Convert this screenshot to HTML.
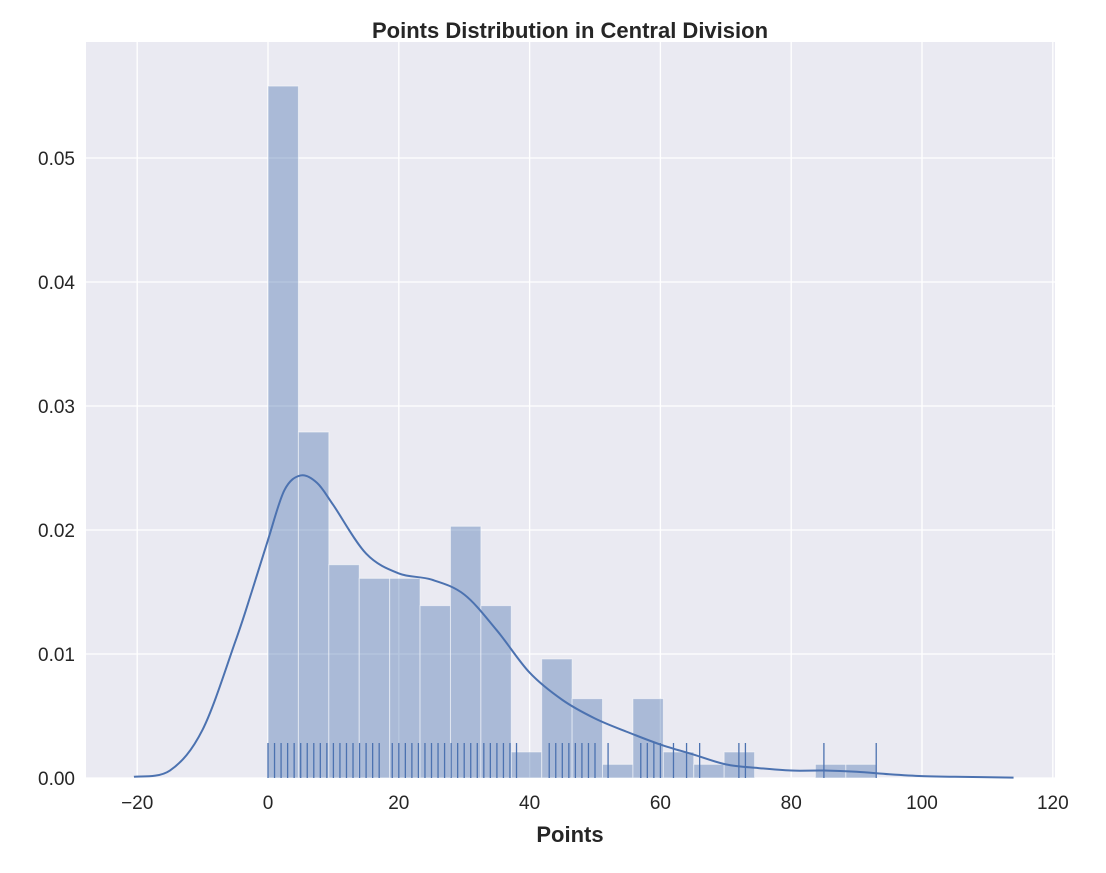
<!DOCTYPE html>
<html><head><meta charset="utf-8"><style>
body{margin:0;background:#fff;font-family:"Liberation Sans",Arial,sans-serif}
</style></head><body>
<svg id="c" width="1106" height="868" xmlns="http://www.w3.org/2000/svg"></svg>
<script>
const binEdges=[0,4.65,9.3,13.95,18.6,23.25,27.9,32.55,37.2,41.85,46.5,51.15,55.8,60.45,65.1,69.75,74.4,79.05,83.7,88.35,93];
const binHeights=[0.0558,0.0279,0.0172,0.0161,0.0161,0.0139,0.0203,0.0139,0.0021,0.0096,0.0064,0.0011,0.0064,0.0021,0.0011,0.0021,0,0,0.0011,0.0011];
const kdeX=[-20.5,-15,-10,-5,-2.5,0,2.5,5,7.5,10,15,20,25,30,35,40,45,50,55,60,65,70,75,80,85,90,95,100,105,114];
const kdeY=[0.0001,0.0006,0.0039,0.011,0.015,0.0192,0.0232,0.0244,0.0238,0.022,0.0181,0.0165,0.016,0.0148,0.0119,0.0085,0.0063,0.0048,0.0037,0.0027,0.0019,0.0011,0.0008,0.0006,0.0006,0.0005,0.0003,0.00015,0.0001,0.00003];
const rugValues=[0,1,2,3,4,5,6,7,8,9,10,11,12,13,14,15,16,17,19,20,21,22,23,24,25,26,27,28,29,30,31,32,33,34,35,36,37,38,43,44,45,46,47,48,49,50,52,57,58,59,60,62,64,66,72,73,85,93];
const xTicks=[-20,0,20,40,60,80,100,120];
const yTicks=[0,0.01,0.02,0.03,0.04,0.05];
const L=86,R=1055,T=42,B=778;
const xs=v=>268+v*6.54;
const ys=v=>778-v*12400;
const NS="http://www.w3.org/2000/svg";
const svg=document.getElementById('c');
function mk(t,a,p){const e=document.createElementNS(NS,t);for(const k in a)e.setAttribute(k,a[k]);(p||svg).appendChild(e);return e;}
const bg=mk('rect',{x:L,y:T,width:R-L,height:B-T,fill:'#eaeaf2'});


xTicks.forEach(t=>{const g=mk('line',{x1:xs(t),x2:xs(t),y1:T,y2:B,stroke:'#fff','stroke-width':1.3});


const tx=mk('text',{x:xs(t),y:B+31,'text-anchor':'middle','font-size':19,fill:'#262626'});tx.textContent=(t<0?'\u2212'+(-t):t);

});
yTicks.forEach(t=>{const g=mk('line',{x1:L,x2:R,y1:ys(t),y2:ys(t),stroke:'#fff','stroke-width':1.3});


const tx=mk('text',{x:L-11,y:ys(t)+7,'text-anchor':'end','font-size':19,fill:'#262626'});tx.textContent=t.toFixed(2);

});
binHeights.forEach((h,i)=>{if(h<=0)return;const x0=xs(binEdges[i]),x1=xs(binEdges[i+1]);
const r=mk('rect',{x:x0,y:ys(h),width:x1-x0,height:B-ys(h),fill:'rgba(76,114,176,0.4)',stroke:'rgba(255,255,255,0.5)','stroke-width':1});

});
rugValues.forEach(v=>{const l=mk('line',{x1:xs(v),x2:xs(v),y1:743,y2:B,stroke:'#4c72b0','stroke-width':1.3});

});
const P=kdeX.map((x,i)=>[xs(x),ys(kdeY[i])]);
let d='M'+P[0][0]+','+P[0][1];
for(let i=0;i<P.length-1;i++){const p0=P[i-1]||P[i],p1=P[i],p2=P[i+1],p3=P[i+2]||p2;
d+=` C${p1[0]+(p2[0]-p0[0])/6},${p1[1]+(p2[1]-p0[1])/6} ${p2[0]-(p3[0]-p1[0])/6},${p2[1]-(p3[1]-p1[1])/6} ${p2[0]},${p2[1]}`;}
const k=mk('path',{d:d,fill:'none',stroke:'#4c72b0','stroke-width':2});


const ti=mk('text',{x:570,y:38,'text-anchor':'middle','font-size':22,'font-weight':'bold',fill:'#262626'});ti.textContent='Points Distribution in Central Division';


const xl=mk('text',{x:570,y:842,'text-anchor':'middle','font-size':22,'font-weight':'bold',fill:'#262626'});xl.textContent='Points';


</script>
</body></html>
